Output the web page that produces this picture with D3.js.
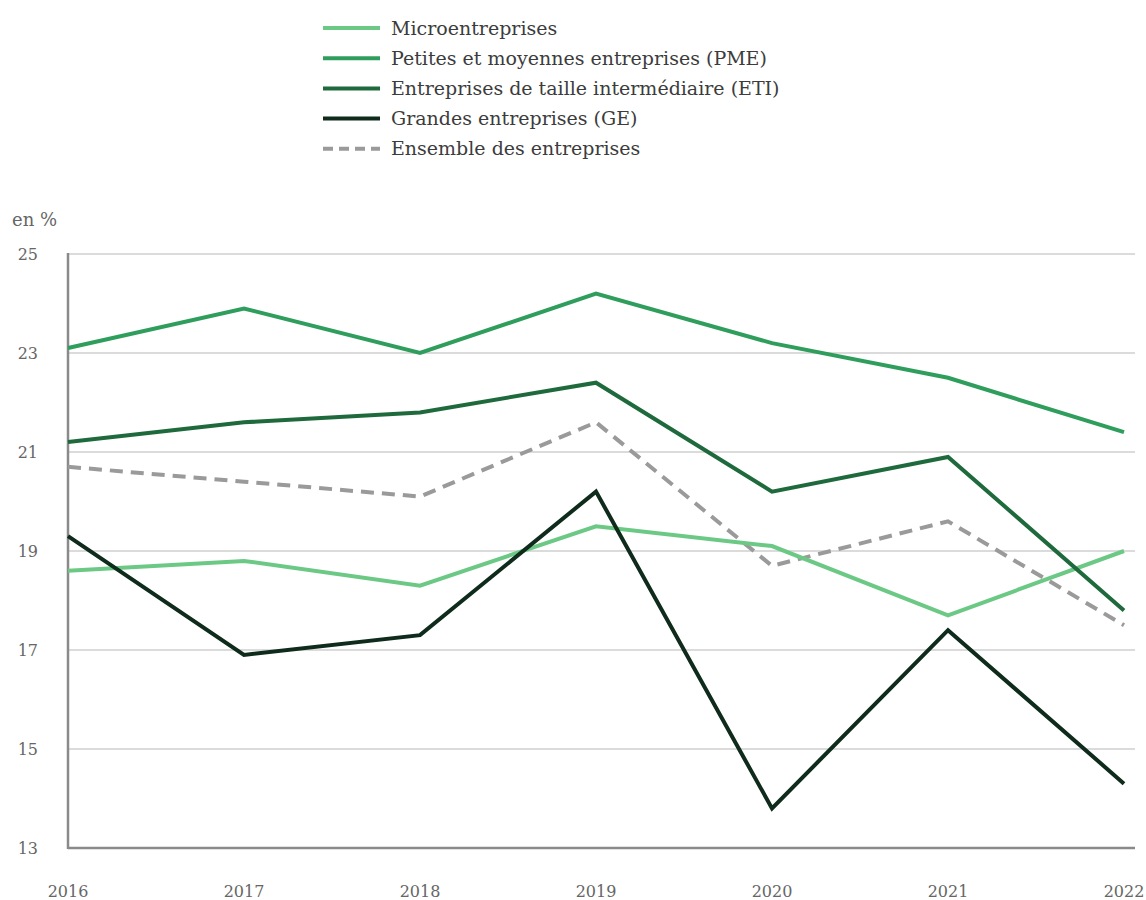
<!DOCTYPE html>
<html>
<head>
<meta charset="utf-8">
<script src="https://cdn.jsdelivr.net/npm/d3@7/dist/d3.min.js"></script>
<style>
  html, body { margin: 0; padding: 0; background: #fff; }
  svg { display: block; }
</style>
</head>
<body>
<svg id="chart" width="1146" height="900"></svg>
<script>
const years = [2016, 2017, 2018, 2019, 2020, 2021, 2022];
const micro    = [18.6, 18.8, 18.3, 19.5, 19.1, 17.7, 19.0];
const pme      = [23.1, 23.9, 23.0, 24.2, 23.2, 22.5, 21.4];
const eti      = [21.2, 21.6, 21.8, 22.4, 20.2, 20.9, 17.8];
const ge       = [19.3, 16.9, 17.3, 20.2, 13.8, 17.4, 14.3];
const ensemble = [20.7, 20.4, 20.1, 21.6, 18.7, 19.6, 17.5];
const yTicks = [13, 15, 17, 19, 21, 23, 25];
const seriesNames = [
  "Microentreprises",
  "Petites et moyennes entreprises (PME)",
  "Entreprises de taille intermédiaire (ETI)",
  "Grandes entreprises (GE)",
  "Ensemble des entreprises"
];
const seriesValues = [micro, pme, eti, ge, ensemble];
const seriesColors = ["#6cc985", "#2f9e5c", "#1f6a3c", "#0f2b1c", "#9a9a9a"];
const seriesDash = [null, null, null, null, "13,8"];
const unitLabel = "en %";

const FONT = "'DejaVu Serif', 'Liberation Serif', serif";

const svg = d3.select("#chart");
const x = d3.scaleLinear().domain([2016, 2022]).range([68, 1124]);
const y = d3.scaleLinear().domain([13, 25]).range([848, 254]);

svg.append("g")
  .selectAll("line")
  .data(yTicks.filter(d => d !== 13))
  .join("line")
  .attr("x1", 68).attr("x2", 1135)
  .attr("y1", d => y(d)).attr("y2", d => y(d))
  .attr("stroke", "#cfcfcf").attr("stroke-width", 1.5);

svg.append("g")
  .selectAll("text")
  .data(yTicks)
  .join("text")
  .attr("x", 38).attr("y", d => y(d))
  .attr("dy", "0.35em")
  .attr("text-anchor", "end")
  .attr("font-family", FONT)
  .attr("font-size", 16)
  .attr("fill", "#666")
  .text(d => d);

svg.append("text")
  .attr("x", 12).attr("y", 226)
  .attr("font-family", FONT)
  .attr("font-size", 18)
  .attr("fill", "#666")
  .text(unitLabel);

svg.append("g")
  .selectAll("text")
  .data(years)
  .join("text")
  .attr("x", d => x(d)).attr("y", 897)
  .attr("text-anchor", "middle")
  .attr("font-family", FONT)
  .attr("font-size", 16)
  .attr("fill", "#666")
  .text(d => d);

svg.append("line")
  .attr("x1", 68).attr("x2", 1135)
  .attr("y1", y(13)).attr("y2", y(13))
  .attr("stroke", "#8a8a8a").attr("stroke-width", 2.5);
svg.append("line")
  .attr("x1", 68).attr("x2", 68)
  .attr("y1", y(25) - 1).attr("y2", y(13) + 1)
  .attr("stroke", "#8a8a8a").attr("stroke-width", 2.5);

const line = d3.line()
  .x((d, i) => x(years[i]))
  .y(d => y(d));

const order = [4, 0, 1, 2, 3];
order.forEach(k => {
  svg.append("path")
    .datum(seriesValues[k])
    .attr("d", line)
    .attr("fill", "none")
    .attr("stroke", seriesColors[k])
    .attr("stroke-width", 4)
    .attr("stroke-linejoin", "miter")
    .attr("stroke-dasharray", seriesDash[k]);
});

const lg = svg.append("g");
seriesNames.forEach((name, i) => {
  const cy = 28 + i * 30.2;
  lg.append("line")
    .attr("x1", 323).attr("x2", 380)
    .attr("y1", cy).attr("y2", cy)
    .attr("stroke", seriesColors[i])
    .attr("stroke-width", 4)
    .attr("stroke-dasharray", seriesDash[i] ? "10,6" : null);
  lg.append("text")
    .attr("x", 391).attr("y", cy)
    .attr("dy", "0.35em")
    .attr("font-family", FONT)
    .attr("font-size", 19)
    .attr("fill", "#3c3c3c")
    .text(name);
});
</script>
</body>
</html>
